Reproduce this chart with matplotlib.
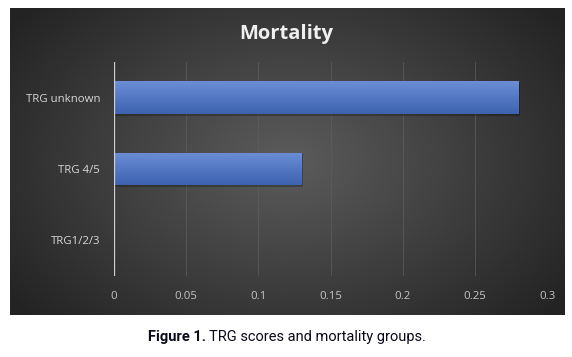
import numpy as np
import matplotlib
matplotlib.use("Agg")
import matplotlib.pyplot as plt
from matplotlib.patches import Rectangle

categories = ["TRG1/2/3", "TRG 4/5", "TRG unknown"]
mortality = [0.0, 0.13, 0.28]
ticks = [0, 0.05, 0.1, 0.15, 0.2, 0.25, 0.3]
tick_labels = ["0", "0.05", "0.1", "0.15", "0.2", "0.25", "0.3"]

lab_font = "Open Sans"
cap_font = "Roboto"

W, H = 572, 357
fig = plt.figure(figsize=(W / 100, H / 100), dpi=100)
fig.patch.set_facecolor("white")

# dark panel, radial gradient
px0, px1, py0, py1 = 10, 565, 8, 315
bg = fig.add_axes([px0 / W, 1 - py1 / H, (px1 - px0) / W, (py1 - py0) / H])
yy, xx = np.mgrid[0:1:200j, 0:1:300j]
r = np.sqrt(((xx - 0.5) / 0.62) ** 2 + ((yy - 0.5) / 0.75) ** 2)
shade = np.clip(0.36 - 0.22 * r, 0.14, 0.36)
bg.imshow(np.dstack([shade] * 3), aspect="auto", extent=[0, 1, 0, 1])
bg.set_axis_off()

# plot area
ax0, ax1, ay0, ay1 = 114, 547, 62, 276
ax = fig.add_axes([ax0 / W, 1 - ay1 / H, (ax1 - ax0) / W, (ay1 - ay0) / H])
ax.patch.set_alpha(0)

for t in ticks[1:]:
    ax.axvline(t, color="#5e5e5e", lw=0.5, zorder=1)
ax.axvline(0, color="#d0d0d0", lw=0.9, zorder=4)

bh = 0.46
grad = np.linspace(0, 1, 50).reshape(-1, 1)
cmap = matplotlib.colors.LinearSegmentedColormap.from_list("b", ["#6b8ed6", "#3d63b0"])
for i, v in enumerate(mortality):
    if v <= 0:
        continue
    ax.add_patch(Rectangle((0, i - bh / 2 - 0.025), v + 0.001, bh, color="black",
                           alpha=0.25, lw=0, zorder=2))
    rect = Rectangle((0, i - bh / 2), v, bh, facecolor="none", lw=0, zorder=3)
    ax.add_patch(rect)
    im = ax.imshow(grad, cmap=cmap, aspect="auto", extent=[0, v, i - bh / 2, i + bh / 2],
                   origin="upper", zorder=3)
    im.set_clip_path(rect)

ax.set_xlim(0, 0.3)
ax.set_ylim(-0.5, 2.5)
ax.set_xticks(ticks)
ax.set_xticklabels(tick_labels, fontfamily=lab_font, fontsize=8.2, color="#c4c4c4")
ax.set_yticks(range(len(categories)))
ax.set_yticklabels(categories, fontfamily=lab_font, fontsize=8.2, color="#d8d8d8")
ax.tick_params(length=0, pad=11, axis="x")
ax.tick_params(length=0, pad=10, axis="y")
for s in ax.spines.values():
    s.set_visible(False)

fig.text(286 / W, 1 - 34 / H, "Mortality", ha="center", va="center",
         fontfamily=lab_font, fontsize=14.5, fontweight="bold", color="#f0f0f0")

t1 = fig.text(148 / W, 1 - 337 / H, "Figure 1.", ha="left", va="center",
              fontfamily=cap_font, fontsize=10.5, fontweight="bold", color="#0a0a1a")
fig.canvas.draw()
bb = t1.get_window_extent()
fig.text((bb.x1 + 3) / W, 1 - 337 / H, "TRG scores and mortality groups.", ha="left",
         va="center", fontfamily=cap_font, fontsize=10.5, color="#0a0a1a")

fig.savefig("out.png", dpi=100)
